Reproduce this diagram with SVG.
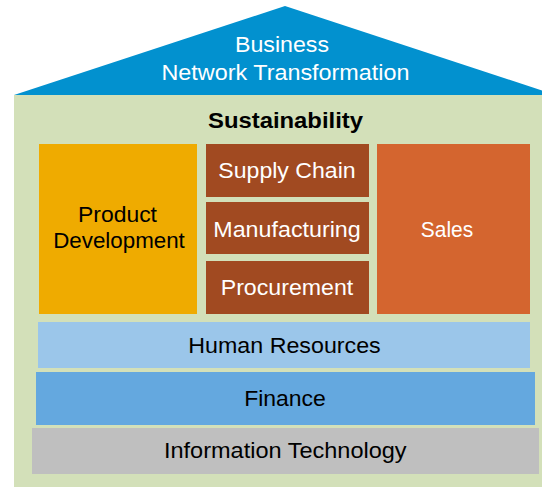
<svg xmlns="http://www.w3.org/2000/svg" width="542" height="487" viewBox="0 0 542 487">
  <style>
    text { font-family: "Liberation Sans", Arial, sans-serif; font-size: 22px; text-anchor: middle; }
    .w { fill: #FFFFFF; }
    .k { fill: #000000; }
    .b { font-weight: bold; }
  </style>
  <g id="house-body">
    <rect x="14" y="95" width="542" height="392" fill="#D3E0B9"/>
  </g>
  <g id="roof">
    <polygon points="285,6 14,95 556,95" fill="#0291CF"/>
    <text class="w" x="282" y="51.7" textLength="94" lengthAdjust="spacingAndGlyphs">Business</text>
    <text class="w" x="285.5" y="80" textLength="248" lengthAdjust="spacingAndGlyphs">Network Transformation</text>
  </g>
  <g id="sustainability">
    <text class="k b" x="285.5" y="128" textLength="155" lengthAdjust="spacingAndGlyphs">Sustainability</text>
  </g>
  <g id="product-development">
    <rect x="39" y="144" width="158" height="170" fill="#EFAB00"/>
    <text class="k" x="117.5" y="221.7" textLength="79" lengthAdjust="spacingAndGlyphs">Product</text>
    <text class="k" x="119" y="248.3" textLength="131.7" lengthAdjust="spacingAndGlyphs">Development</text>
  </g>
  <g id="supply-chain">
    <rect x="206" y="144" width="163" height="53" fill="#A14A21"/>
    <text class="w" x="287" y="178.3" textLength="137.4" lengthAdjust="spacingAndGlyphs">Supply Chain</text>
  </g>
  <g id="manufacturing">
    <rect x="206" y="202" width="163" height="52" fill="#A14A21"/>
    <text class="w" x="287" y="236.7" textLength="147.4" lengthAdjust="spacingAndGlyphs">Manufacturing</text>
  </g>
  <g id="procurement">
    <rect x="206" y="261" width="163" height="53" fill="#A14A21"/>
    <text class="w" x="287" y="295" textLength="132.6" lengthAdjust="spacingAndGlyphs">Procurement</text>
  </g>
  <g id="sales">
    <rect x="377" y="144" width="153" height="170" fill="#D4652F"/>
    <text class="w" x="447" y="237.3" textLength="52.3" lengthAdjust="spacingAndGlyphs">Sales</text>
  </g>
  <g id="human-resources">
    <rect x="38" y="322" width="492" height="46" fill="#9BC6EA"/>
    <text class="k" x="284.5" y="352.7" textLength="192.4" lengthAdjust="spacingAndGlyphs">Human Resources</text>
  </g>
  <g id="finance">
    <rect x="36" y="372" width="499" height="53" fill="#64A8DF"/>
    <text class="k" x="285" y="406" textLength="81.7" lengthAdjust="spacingAndGlyphs">Finance</text>
  </g>
  <g id="information-technology">
    <rect x="32" y="428" width="507" height="46" fill="#BFBFBF"/>
    <text class="k" x="285.3" y="457.7" textLength="242.7" lengthAdjust="spacingAndGlyphs">Information Technology</text>
  </g>
  <g id="connectors"></g>
</svg>
